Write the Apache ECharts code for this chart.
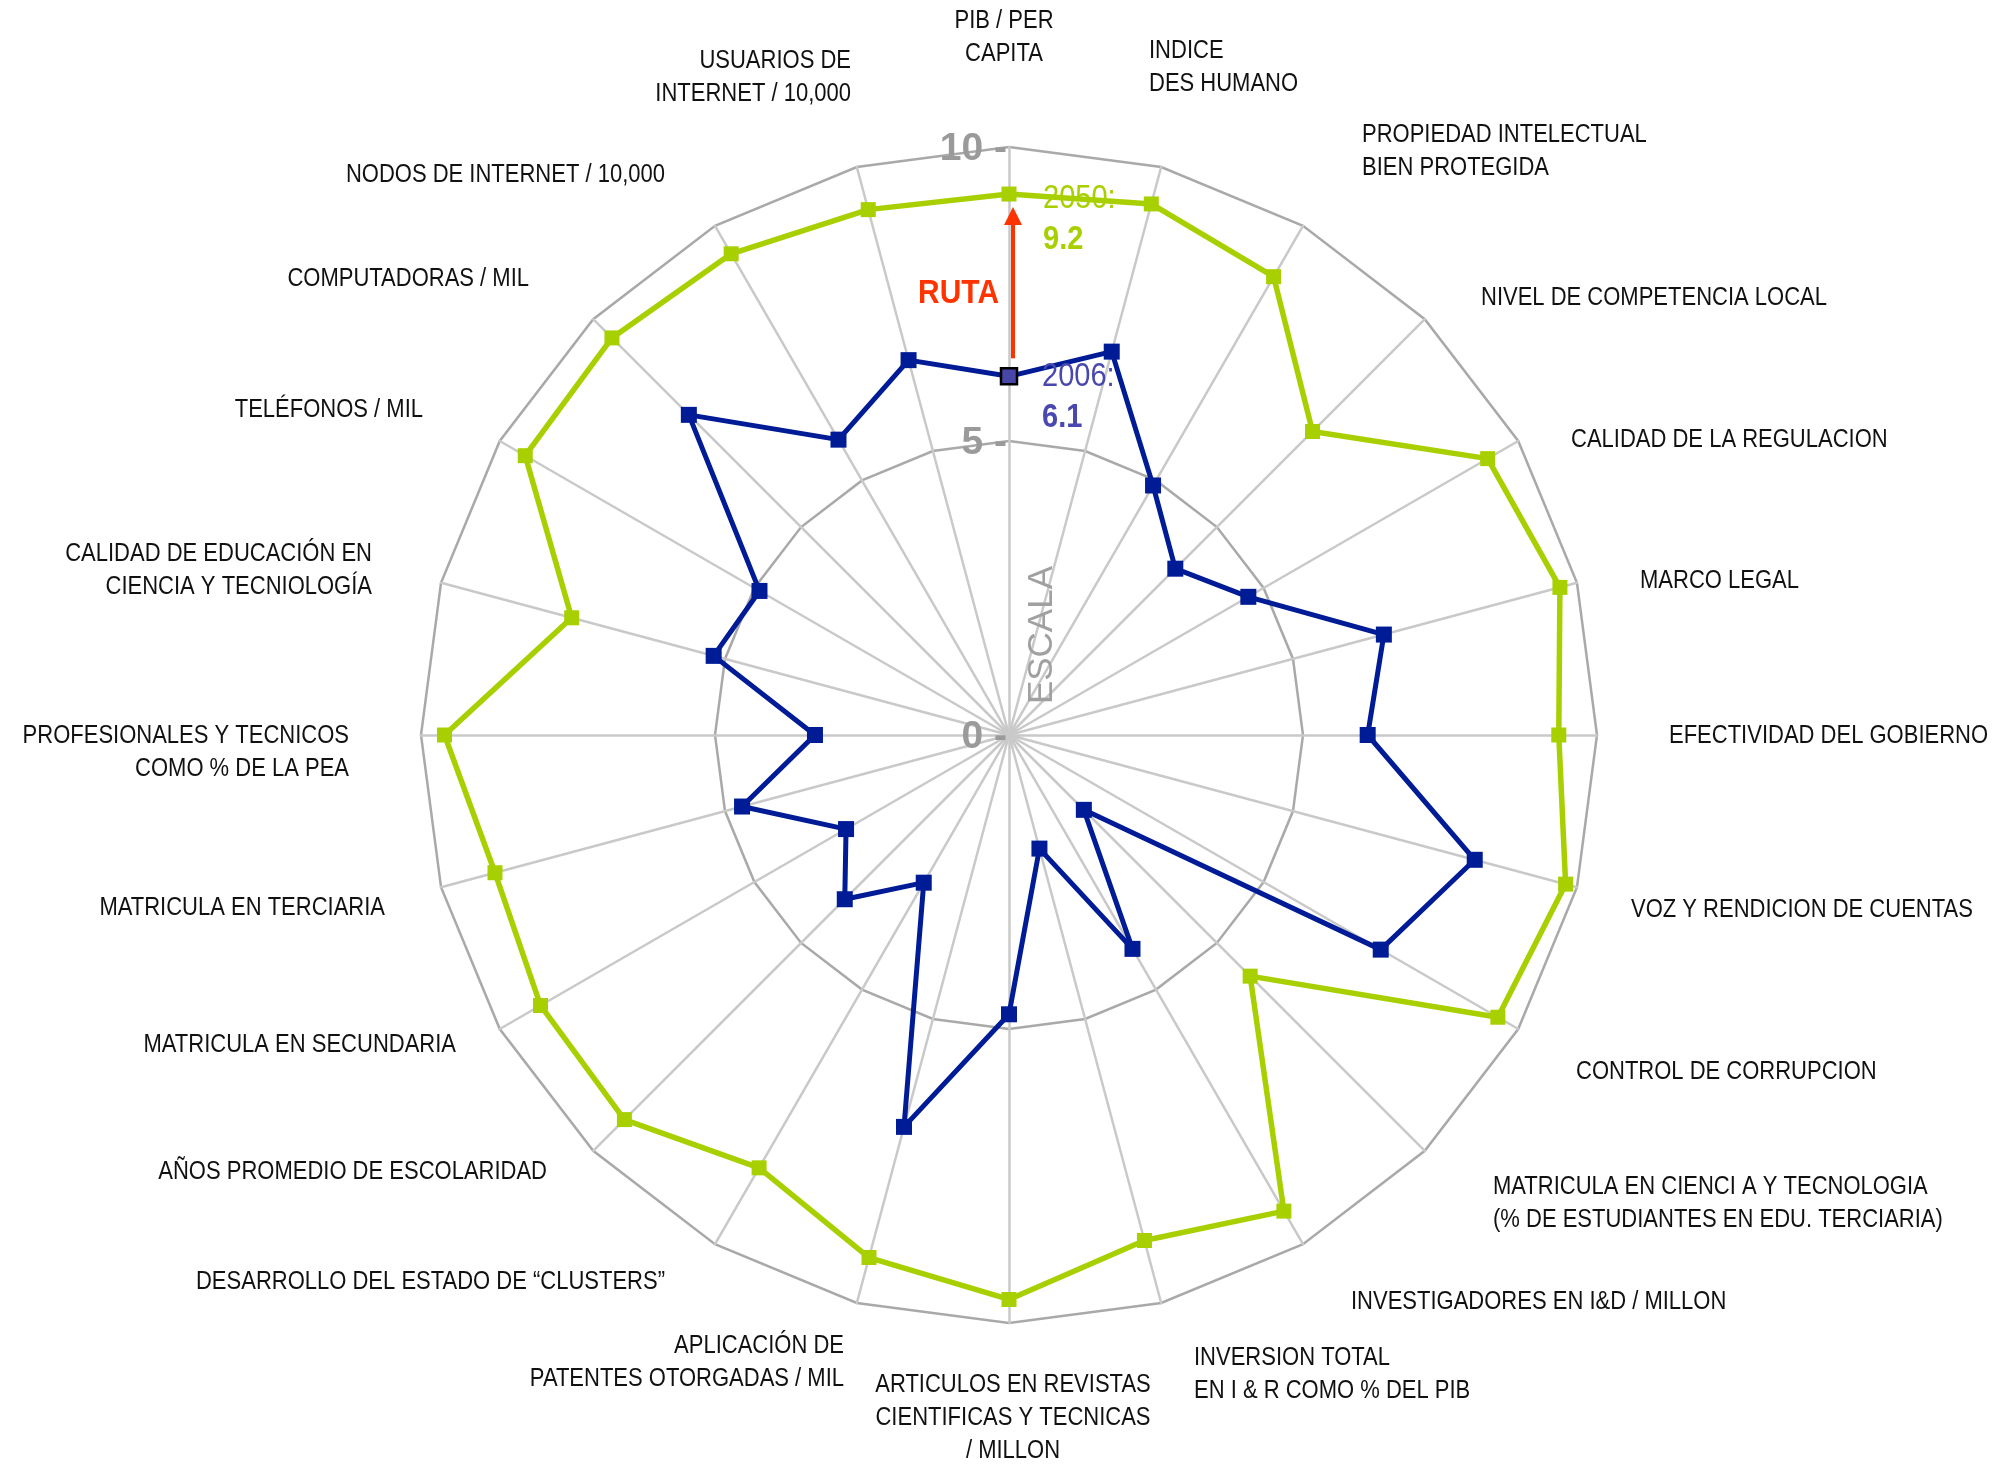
<!DOCTYPE html>
<html><head><meta charset="utf-8">
<script src="https://cdn.jsdelivr.net/npm/echarts@6/dist/echarts.min.js"></script>
<style>html,body{margin:0;padding:0;background:#fff}#c{width:1998px;height:1466px}</style>
</head><body><div id="c"></div>
<script>
// ---- DATA (clockwise from top) ----
const categories = [
  'PIB / PER\nCAPITA',
  'INDICE\nDES HUMANO',
  'PROPIEDAD INTELECTUAL\nBIEN PROTEGIDA',
  'NIVEL DE COMPETENCIA LOCAL',
  'CALIDAD DE LA REGULACION',
  'MARCO LEGAL',
  'EFECTIVIDAD DEL GOBIERNO',
  'VOZ Y RENDICION DE CUENTAS',
  'CONTROL DE CORRUPCION',
  'MATRICULA EN CIENCI A Y TECNOLOGIA\n(% DE ESTUDIANTES EN EDU. TERCIARIA)',
  'INVESTIGADORES EN I&D / MILLON',
  'INVERSION TOTAL\nEN I & R COMO % DEL PIB',
  'ARTICULOS EN REVISTAS\nCIENTIFICAS Y TECNICAS\n/ MILLON',
  'APLICACIÓN DE\nPATENTES OTORGADAS / MIL',
  'DESARROLLO DEL ESTADO DE “CLUSTERS”',
  'AÑOS PROMEDIO DE ESCOLARIDAD',
  'MATRICULA EN SECUNDARIA',
  'MATRICULA EN TERCIARIA',
  'PROFESIONALES Y TECNICOS\nCOMO % DE LA PEA',
  'CALIDAD DE EDUCACIÓN EN\nCIENCIA Y TECNIOLOGÍA',
  'TELÉFONOS / MIL',
  'COMPUTADORAS / MIL',
  'NODOS DE INTERNET / 10,000',
  'USUARIOS DE\nINTERNET / 10,000'
];
const values2006 = [6.1, 6.75, 4.9, 4.0, 4.7, 6.6, 6.1, 8.2, 7.3, 1.8, 4.2, 2.0, 4.75, 6.9, 2.9, 3.95, 3.2, 4.7, 3.3, 5.2, 4.9, 7.7, 5.8, 6.6];
const values2050 = [9.2, 9.35, 9.0, 7.3, 9.4, 9.7, 9.35, 9.8, 9.6, 5.8, 9.35, 8.9, 9.6, 9.2, 8.5, 9.25, 9.2, 9.05, 9.6, 7.7, 9.5, 9.55, 9.45, 9.25];
const scaleTicks = [0, 5, 10];
const seriesNames = ['2006', '2050'];
const scaleMax = 10;

// ---- LAYOUT (label placement, px) ----
const labelLayout = [
  [1004, 38, 'center'], [1149, 68, 'left'], [1362, 152, 'left'], [1481, 298, 'left'],
  [1571, 440, 'left'], [1640, 581, 'left'], [1669, 736, 'left'], [1631, 910, 'left'],
  [1576, 1072, 'left'], [1493, 1204, 'left'], [1351, 1302, 'left'], [1194, 1375, 'left'],
  [1013, 1418, 'center'], [844, 1363, 'right'], [665, 1282, 'right'], [547, 1172, 'right'],
  [456, 1045, 'right'], [385, 908, 'right'], [349, 753, 'right'], [372, 571, 'right'],
  [423, 410, 'right'], [529, 279, 'right'], [665, 175, 'right'], [851, 78, 'right']
];
const CX = 1009, CY = 735, R = 588;
const FONT = "'Liberation Sans',Arial,sans-serif";
const SQ = 0.88; // horizontal condensing to mimic a narrow face
const GREEN = '#a8d000', BLUE = '#001b96', RED = '#ff3300', GREY = '#9a9a9a';

// ECharts radar runs counter-clockwise: reorder so the chart reads clockwise
const n = categories.length;
const order = [0];
for (let i = n - 1; i >= 1; i--) order.push(i);

const chart = echarts.init(document.getElementById('c'), null, {renderer: 'canvas'});
chart.setOption({
  animation: false,
  backgroundColor: '#ffffff',
  radar: {
    center: [CX, CY],
    radius: R,
    startAngle: 90,
    splitNumber: 2,
    shape: 'polygon',
    indicator: order.map(i => ({name: categories[i], min: scaleTicks[0], max: scaleMax})),
    axisName: {show: false},
    axisLine: {lineStyle: {color: '#c9c9c9', width: 2.5}},
    splitLine: {lineStyle: {color: '#a9a9a9', width: 2.5}},
    splitArea: {show: false},
    axisTick: {show: false},
    axisLabel: {show: false}
  },
  series: [{
    type: 'radar',
    symbol: 'rect',
    z: 3,
    data: [
      {name: seriesNames[0], value: order.map(i => values2006[i]), symbolSize: 16,
        lineStyle: {color: BLUE, width: 5}, itemStyle: {color: BLUE}},
      {name: seriesNames[1], value: order.map(i => values2050[i]), symbolSize: 15,
        lineStyle: {color: GREEN, width: 5.5}, itemStyle: {color: GREEN}}
    ]
  }]
});

// point on the first (top) axis through the radar coordinate system
function pt(v) {
  try {
    const cs = chart.getModel().getComponent('radar', 0).coordinateSystem;
    const p = cs.dataToPoint(v, 0);
    if (p && isFinite(p[0])) return p;
  } catch (e) {}
  return [CX, CY - R * v / scaleMax];
}

function txt(x, y, text, font, fill, align, extra) {
  return Object.assign({type: 'text', x: x, y: y, z: 10, scaleX: SQ,
    style: Object.assign({text: text, font: font, fill: fill, align: align, verticalAlign: 'middle'}, extra || {})});
}

const g = [];
categories.forEach((c, i) => {
  const L = labelLayout[i];
  g.push(txt(L[0], L[1], c, '25px ' + FONT, '#111', L[2], {lineHeight: 33}));
});
scaleTicks.forEach(t => {
  const p = pt(t);
  g.push({type: 'text', x: p[0] - 2, y: p[1] + 2, z: 1,
    style: {text: t + ' -', font: 'bold 39px ' + FONT, fill: GREY, align: 'right', verticalAlign: 'middle'}});
});
const p06 = pt(values2006[0]), p50 = pt(values2050[0]);
// ESCALA
const pE = pt(1.7);
g.push({type: 'text', x: p06[0] + 33, y: pE[1], rotation: Math.PI / 2, z: 1,
  style: {text: 'ESCALA', font: '35px ' + FONT, fill: '#a0a0a0', align: 'center', verticalAlign: 'middle'}});
// arrow
const ax = p06[0] + 4;
g.push({type: 'line', z: 10, shape: {x1: ax, y1: p06[1] - 18, x2: ax, y2: p50[1] + 28},
  style: {stroke: RED, lineWidth: 4}});
g.push({type: 'polygon', z: 10, shape: {points: [[ax, p50[1] + 13], [ax - 9, p50[1] + 31], [ax + 9, p50[1] + 31]]},
  style: {fill: RED}});
g.push(txt(ax - 14, (p06[1] + p50[1]) / 2 + 8, 'RUTA', 'bold 34px ' + FONT, RED, 'right'));
// value annotations
g.push(txt(p50[0] + 34, p50[1] + 5, seriesNames[1] + ':', '33px ' + FONT, GREEN, 'left'));
g.push(txt(p50[0] + 34, p50[1] + 46, String(values2050[0]), 'bold 33px ' + FONT, GREEN, 'left'));
g.push(txt(p06[0] + 33, p06[1] + 1, seriesNames[0] + ':', '33px ' + FONT, '#4848b0', 'left'));
g.push(txt(p06[0] + 33, p06[1] + 42, String(values2006[0]), 'bold 33px ' + FONT, '#4848b0', 'left'));
// highlighted 2006 marker on the top axis
g.push({type: 'rect', z: 20, shape: {x: p06[0] - 8, y: p06[1] - 8, width: 16, height: 16},
  style: {fill: '#4747a8', stroke: '#000', lineWidth: 2.5}});

chart.setOption({graphic: {elements: g}});
</script></body></html>
